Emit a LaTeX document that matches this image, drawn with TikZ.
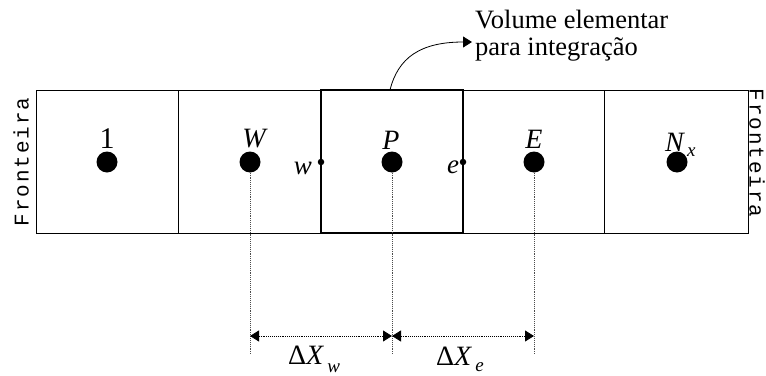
\documentclass[tikz,border=0pt]{standalone}
\usepackage{fontspec}
\setmainfont{Liberation Serif}
\newfontfamily\frontfont[LetterSpace=9]{Liberation Mono}
\usetikzlibrary{arrows.meta}
\begin{document}
\begin{tikzpicture}[x=1pt,y=-1pt,
  bigdot/.style={circle,fill=black,inner sep=0pt,minimum size=21pt},
  smalldot/.style={circle,fill=black,inner sep=0pt,minimum size=6.5pt},
  lbl/.style={font=\fontsize{28}{30}\selectfont\itshape,anchor=base,inner sep=0pt},
  guide/.style={densely dotted,line width=0.9pt,black!70},
  dim/.style={densely dotted,line width=0.9pt,{Triangle[length=9pt,width=11pt]}-{Triangle[length=9pt,width=11pt]}},
  fr/.style={font=\fontsize{21}{24}\selectfont\frontfont,inner sep=0pt}]
\useasboundingbox (0,0) rectangle (766,375);
% outer strip and cells
\draw[line width=0.8pt] (36,90) rectangle (748,233);
\foreach \x in {178,604} \draw[line width=0.8pt] (\x,90) -- (\x,233);
\draw[line width=2.6pt] (321,90) rectangle (463,233);
% dots
\node[bigdot] (d1) at (107,162) {};
\node[bigdot] (dW) at (250,162) {};
\node[bigdot] (dP) at (392,162) {};
\node[bigdot] (dE) at (534,162) {};
\node[bigdot] (dN) at (677,162) {};
\node[smalldot] (fw) at (321,162) {};
\node[smalldot] (fe) at (463,162) {};
% labels
\node[font=\fontsize{30}{32}\selectfont,anchor=base,inner sep=0pt] (l1) at (107,148) {1};
\node[lbl] (lW) at (254,147) {W};
\node[lbl] (lP) at (391,149) {P};
\node[lbl] (lE) at (534,148) {E};
\node[lbl,anchor=base west] (lN) at (665,151) {N\raisebox{-5pt}{\fontsize{19}{20}\selectfont\,x}};
\node[lbl,font=\fontsize{27}{28}\selectfont\itshape] (lw) at (303,174) {w};
\node[lbl,font=\fontsize{27}{28}\selectfont\itshape] (le) at (453,173) {e};
% guide lines
\coordinate (gW) at (250,355);
\coordinate (gP) at (392,355);
\coordinate (gE) at (534,355);
\draw[guide] (dW) -- (gW);
\draw[guide] (dP) -- (gP);
\draw[guide] (dE) -- (gE);
% dimension arrows
\coordinate (aW) at (250,336);
\coordinate (aP) at (392,336);
\coordinate (aE) at (534,336);
\draw[dim] (aW) -- (aP);
\draw[dim] (aP) -- (aE);
\node[font=\fontsize{28}{30}\selectfont,anchor=base west,inner sep=0pt] (dxw) at (288,364) {Δ\textit{X}\raisebox{-8pt}{\fontsize{19}{20}\selectfont\,\textit{w}}};
\node[font=\fontsize{28}{30}\selectfont,anchor=base west,inner sep=0pt] (dxe) at (436,365) {Δ\textit{X}\raisebox{-6pt}{\fontsize{19}{20}\selectfont\,\textit{e}}};
% annotation
\node[font=\fontsize{26.5}{27}\selectfont,align=left,anchor=west,inner sep=0pt] (vol) at (475,36) {Volume elementar\\para integração};
\coordinate (cs) at (390,90);
\coordinate (ce) at (472,42);
\draw[line width=0.8pt,-{Triangle[length=9pt,width=11pt]}] (cs) .. controls (398,58) and (420,42) .. (ce);
% boundaries
\node[fr,rotate=90] (frl) at (21,162) {Fronteira};
\node[fr,rotate=-90,anchor=north] (frr) at (765,153) {Fronteira};
\end{tikzpicture}
\end{document}
